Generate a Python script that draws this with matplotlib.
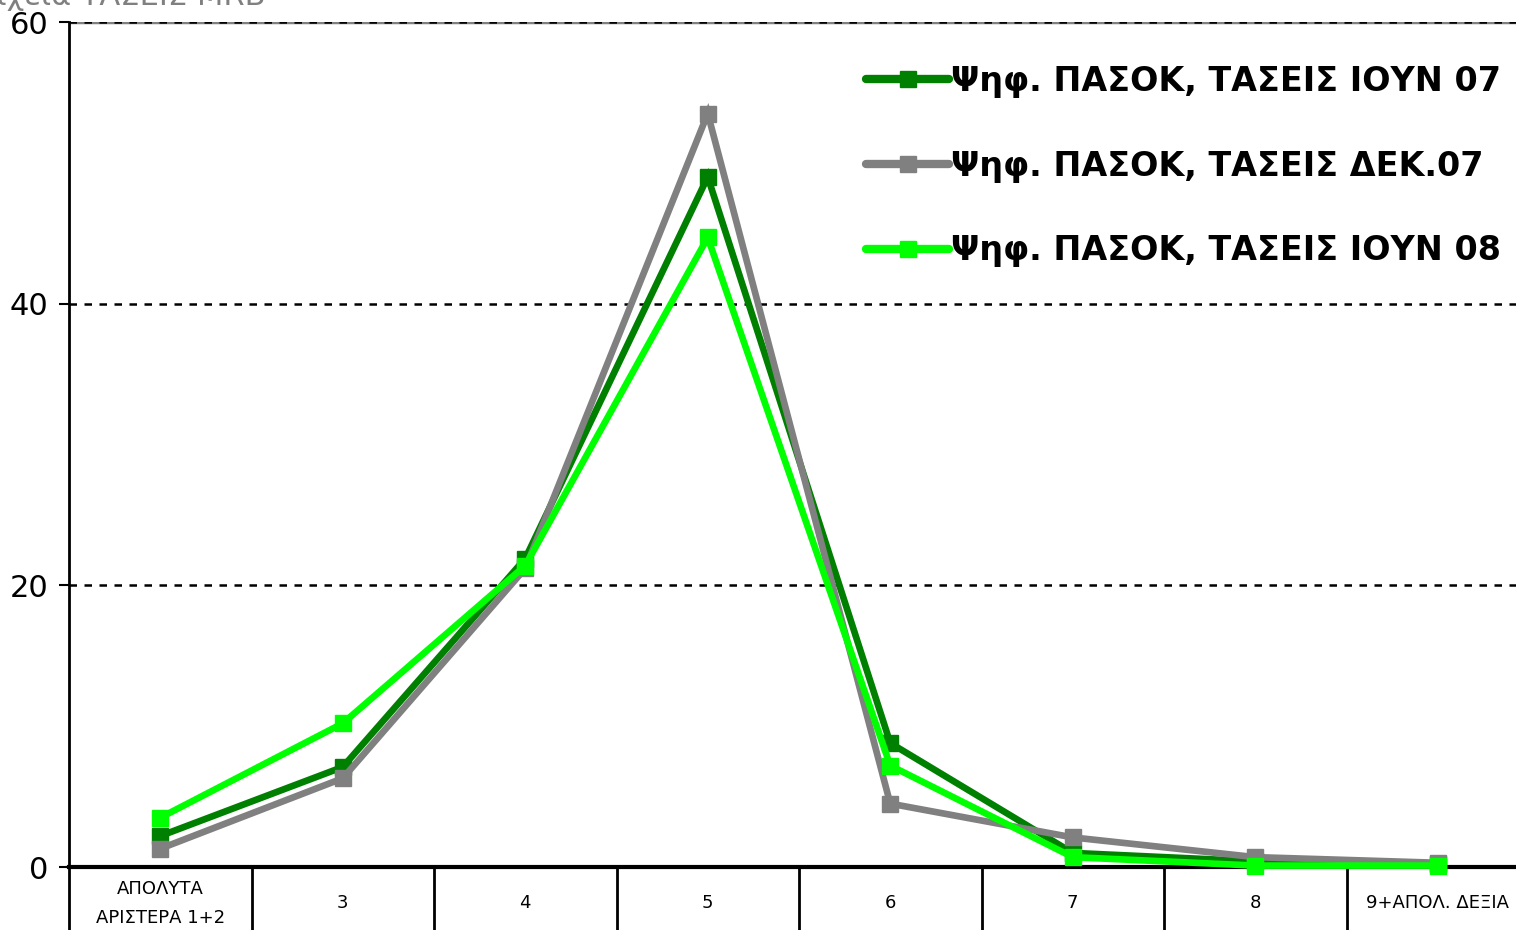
import matplotlib
matplotlib.use("Agg")
import matplotlib.pyplot as plt
import numpy as np

categories = ["ΑΠΟΛΥΤΑ\nΑΡΙΣΤΕΡΑ 1+2", "3", "4", "5", "6", "7", "8", "9+ΑΠΟΛ. ΔΕΞΙΑ"]
jun07 = [2.2, 7.1, 21.9, 49.0, 8.8, 1.0, 0.4, 0.2]
dec07 = [1.3, 6.3, 21.2, 53.5, 4.5, 2.1, 0.7, 0.3]
jun08 = [3.5, 10.2, 21.4, 44.7, 7.2, 0.7, 0.1, 0.1]
series_labels = ["Ψηφ. ΠΑΣΟΚ, ΤΑΣΕΙΣ ΙΟΥΝ 07",
                 "Ψηφ. ΠΑΣΟΚ, ΤΑΣΕΙΣ ΔΕΚ.07",
                 "Ψηφ. ΠΑΣΟΚ, ΤΑΣΕΙΣ ΙΟΥΝ 08"]
series_colors = ["#008000", "#808080", "#00FF00"]
yticks = [0, 20, 40, 60]
title_text = "Στοιχεία ΤΑΣΕΙΣ MRB"

plt.rcParams['font.family'] = ['DejaVu Sans']

W, H = 1516, 930
fig = plt.figure(figsize=(W / 100, H / 100), dpi=100)
left_px, right_px, top_px, bottom_px = 69, 1529, 22, 867
ax = fig.add_axes([left_px / W, (H - bottom_px) / H,
                   (right_px - left_px) / W, (bottom_px - top_px) / H])

x = np.arange(len(categories))
for vals, lab, col in zip([jun07, dec07, jun08], series_labels, series_colors):
    ax.plot(x, vals, color=col, lw=4.8, marker='s', ms=11,
            markeredgecolor=col, markerfacecolor=col, label=lab,
            solid_joinstyle='miter', solid_capstyle='round',
            clip_on=False, zorder=3)

ax.set_xlim(-0.5, len(categories) - 0.5)
ax.set_ylim(0, 60)
ax.set_yticks(yticks)
ax.set_yticklabels([str(v) for v in yticks], fontsize=22)
ax.tick_params(axis='y', direction='out', length=7, width=1.5, pad=8)

# gridlines
for v in yticks[1:]:
    if v == 60:
        ax.axhline(v, color='#808080', lw=2.5, zorder=1)
    ax.axhline(v, color='black', lw=1.8, ls=(0, (3, 3)), zorder=2)

for s in ['top', 'right']:
    ax.spines[s].set_visible(False)
ax.spines['left'].set_linewidth(2)
ax.spines['bottom'].set_linewidth(3)

# category axis: labels and separator lines
ax.set_xticks([])
trans = ax.get_xaxis_transform()
for b in np.arange(-0.5, len(categories) - 0.5, 1.0):
    ax.plot([b, b], [0, -0.1], color='black', lw=2, transform=trans,
            clip_on=False)
for i, c in enumerate(categories):
    ax.text(i, -0.043, c, transform=trans, ha='center', va='center',
            fontsize=13, linespacing=1.75)

leg = ax.legend(loc='upper right', bbox_to_anchor=(0.99, 0.965),
                frameon=False, prop={'weight': 'bold', 'size': 24},
                handlelength=2.5, handletextpad=0.05, labelspacing=1.55,
                borderaxespad=0)
for line in leg.get_lines():
    line.set_linewidth(6)

fig.text(265 / W, (H - 5) / H, title_text, ha='right', va='baseline',
         fontsize=22, color='#808080')

fig.savefig("out.png", dpi=100)
